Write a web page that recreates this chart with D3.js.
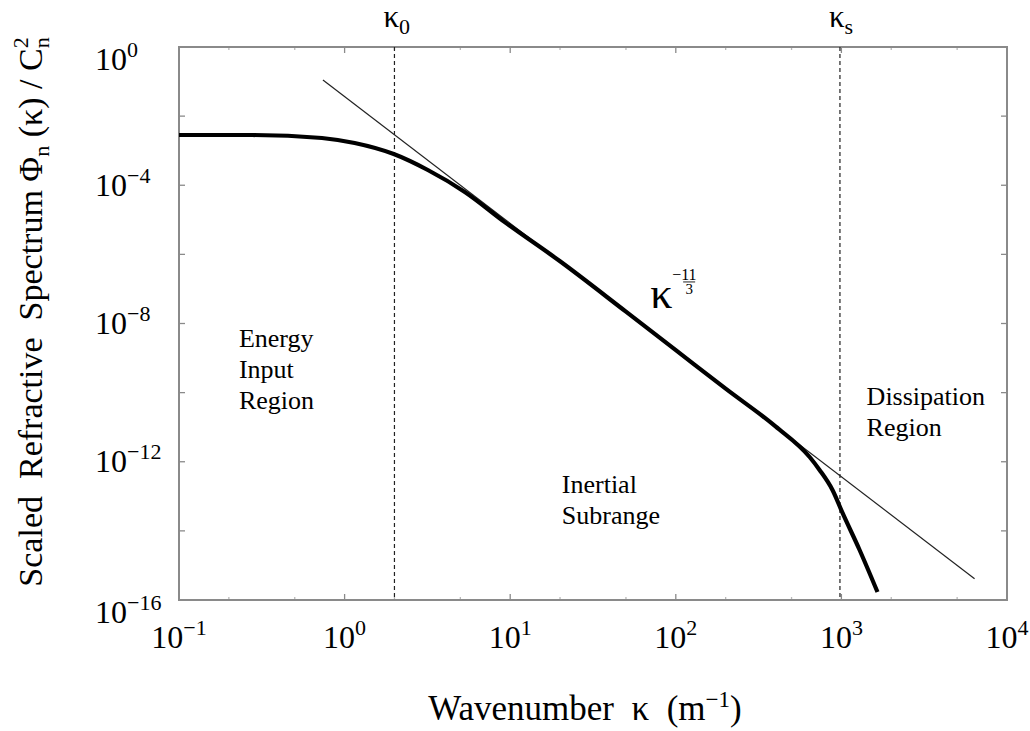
<!DOCTYPE html>
<html>
<head>
<meta charset="utf-8">
<script src="https://cdn.jsdelivr.net/npm/d3@7/dist/d3.min.js"></script>
</head>
<body style="margin:0">
<svg id="chart" width="1030" height="731"></svg>
<script>
// Scaled refractive-index spectrum vs wavenumber (log-log)

// Spectrum curve samples: wavenumber (1/m) and scaled spectrum value
const kappa = [0.1, 0.276, 0.73, 1.15, 1.98, 3.18, 5.32, 9.27, 20, 50, 100, 200, 400, 643, 738, 885, 1016, 1288, 1652];
const spectrum = [2.84e-3, 2.84e-3, 2.33e-3, 1.67e-3, 8.0e-4, 2.76e-4, 6.4e-5, 8.6e-6, 6.3e-7, 2.2e-8, 1.7e-9, 1.3e-10, 1.05e-11, 1.37e-12, 5.8e-13, 1.5e-13, 3.3e-14, 2.8e-15, 1.7e-16];

// Kolmogorov power-law reference line: coef * kappa^(-11/3)
const powerLawKappa = [0.74, 6370];
const powerLawCoef = 0.0367;
const powerLawExp = -11 / 3;

// Characteristic wavenumbers (dashed markers)
const kappa0 = 2.0;
const kappaS = 980;

// Axis ticks
const xTickValues = [0.1, 1, 10, 100, 1000, 10000];
const yTickValues = [1, 1e-4, 1e-8, 1e-12, 1e-16];
const yMinorTicks = [1e-2, 1e-6, 1e-10, 1e-14];
const xMinorTicks = [0.2, 0.5, 2, 5, 20, 50, 200, 500, 2000, 5000];

// Region annotations [kappa, spectrum, lines]
const regions = [
  { k: 0.23, v: 10 ** -8.68, lines: ["Energy", "Input", "Region"] },
  { k: 20.5, v: 10 ** -12.9, lines: ["Inertial", "Subrange"] },
  { k: 1420, v: 10 ** -10.36, lines: ["Dissipation", "Region"] }
];
const slopeLabelPos = { k: 70, v: 10 ** -7.55 };

const SP = "\u00a0"; // non-breaking space for wider word gaps

const svg = d3.select("#chart");
const W = 1030, H = 731;
const margin = { top: 47, right: 23, bottom: 131, left: 179 };

const x = d3.scaleLog().domain([0.1, 1e4]).range([margin.left, W - margin.right]);
const y = d3.scaleLog().domain([1e-16, 1]).range([H - margin.bottom, margin.top]);

const x0 = x.range()[0], x1 = x.range()[1];
const yTop = y.range()[1], yBot = y.range()[0];

const frameColor = "#8a8a8a";

// One plain text element in the serif face
function plain(parent, px, py, size, str) {
  return parent.append("text")
    .attr("x", px).attr("y", py)
    .attr("font-size", size)
    .style("font-family", '"Liberation Serif"')
    .text(str);
}

// A row of text runs (base, superscripts, subscripts) laid out side by side.
// Each part: { text, size, shift (baseline offset), stack (share x with previous run) }
function runs(parent, px, py, anchor, parts) {
  const nodes = parts.map(p => plain(parent, 0, py + (p.shift || 0), p.size, p.text));
  const widths = nodes.map(n => n.node().getComputedTextLength());
  const starts = [];
  let cursor = 0, prevStart = 0, prevEnd = 0;
  parts.forEach((p, i) => {
    if (p.stack) {
      starts.push(prevStart);
      cursor = Math.max(prevEnd, prevStart + widths[i]);
    } else {
      starts.push(cursor);
      prevStart = cursor;
      cursor += widths[i];
    }
    prevEnd = cursor;
  });
  const total = cursor;
  const off = anchor === "middle" ? -total / 2 : anchor === "end" ? -total : 0;
  nodes.forEach((n, i) => n.attr("x", px + off + starts[i]));
}

// Frame
svg.append("rect")
  .attr("x", x0).attr("y", yTop)
  .attr("width", x1 - x0).attr("height", yBot - yTop)
  .attr("fill", "none").attr("stroke", frameColor).attr("stroke-width", 2);

// Inward ticks on all four sides
const tickG = svg.append("g").attr("stroke", frameColor).attr("stroke-width", 1.3);
yMinorTicks.concat(yTickValues).forEach(v => {
  tickG.append("line").attr("x1", x0).attr("x2", x0 + 6).attr("y1", y(v)).attr("y2", y(v));
  tickG.append("line").attr("x1", x1).attr("x2", x1 - 6).attr("y1", y(v)).attr("y2", y(v));
});
xTickValues.forEach(v => {
  tickG.append("line").attr("x1", x(v)).attr("x2", x(v)).attr("y1", yBot).attr("y2", yBot - 6);
  tickG.append("line").attr("x1", x(v)).attr("x2", x(v)).attr("y1", yTop).attr("y2", yTop + 6);
});
xMinorTicks.forEach(v => {
  tickG.append("line").attr("x1", x(v)).attr("x2", x(v)).attr("y1", yBot).attr("y2", yBot - 3).attr("stroke-opacity", 0.6);
  tickG.append("line").attr("x1", x(v)).attr("x2", x(v)).attr("y1", yTop).attr("y2", yTop + 3).attr("stroke-opacity", 0.6);
});

const expText = v => {
  const e = Math.round(Math.log10(v));
  return e < 0 ? "\u2212" + Math.abs(e) : String(e);
};

// X tick labels
xTickValues.forEach(v => {
  runs(svg, x(v), 648, "middle", [
    { text: "10", size: 32 },
    { text: expText(v), size: 22, shift: -13 }
  ]);
});

// Y tick labels (left aligned)
yTickValues.forEach(v => {
  const edge = (v === 1 || v === 1e-16) ? 12 : 0;
  runs(svg, 95, y(v) + 10.5 + edge, "start", [
    { text: "10", size: 32 },
    { text: expText(v), size: 22, shift: -13 }
  ]);
});

// Dashed characteristic wavenumber markers
[kappa0, kappaS].forEach(k => {
  svg.append("line")
    .attr("x1", x(k)).attr("x2", x(k))
    .attr("y1", yTop).attr("y2", yBot)
    .attr("stroke", "#222").attr("stroke-width", 1.2)
    .attr("stroke-dasharray", "4,3");
});

// Marker labels above the frame
[[kappa0, "0"], [kappaS, "s"]].forEach(([k, sub]) => {
  runs(svg, x(k) - 11, 27, "start", [
    { text: "\u03ba", size: 31 },
    { text: sub, size: 22, shift: 7 }
  ]);
});

// Power-law reference line
const lawLine = d3.line()
  .x(d => x(d))
  .y(d => y(powerLawCoef * Math.pow(d, powerLawExp)));
svg.append("path")
  .attr("d", lawLine(powerLawKappa))
  .attr("fill", "none").attr("stroke", "#222").attr("stroke-width", 1.2);

// Spectrum curve
const data = kappa.map((k, i) => [k, spectrum[i]]);
const specLine = d3.line()
  .x(d => x(d[0]))
  .y(d => y(d[1]))
  .curve(d3.curveMonotoneX);
svg.append("path")
  .attr("d", specLine(data))
  .attr("fill", "none").attr("stroke", "#000").attr("stroke-width", 4.2)
  .attr("stroke-linejoin", "round");

// Slope annotation kappa^(-11/3)
{
  const px = x(slopeLabelPos.k), py = y(slopeLabelPos.v);
  plain(svg, px, py, 44, "\u03ba");
  plain(svg, px + 22, py - 28, 16, "\u221211");
  svg.append("line")
    .attr("x1", px + 33).attr("x2", px + 45)
    .attr("y1", py - 26).attr("y2", py - 26)
    .attr("stroke", "#222").attr("stroke-width", 1);
  plain(svg, px + 39, py - 14, 15, "3").attr("text-anchor", "middle");
}

// Region labels, one element per line
regions.forEach(r => {
  r.lines.forEach((s, i) => plain(svg, x(r.k), y(r.v) + i * 31, 26, s));
});

// Axis titles
runs(svg, 585, 720, "middle", [
  { text: "Wavenumber" + SP + SP + "\u03ba" + SP + SP + "(m", size: 35 },
  { text: "\u22121", size: 23, shift: -13 },
  { text: ")", size: 35 }
]);

{
  const g = svg.append("g").attr("transform", "translate(42,312) rotate(-90)");
  runs(g, 0, 0, "middle", [
    { text: "Scaled" + SP + SP + "Refractive" + SP + SP + "Spectrum" + SP + "\u03a6", size: 34 },
    { text: "n", size: 22, shift: 7 },
    { text: SP + "(\u03ba)" + SP + "/" + SP + "C", size: 34 },
    { text: "2", size: 22, shift: -14 },
    { text: "n", size: 22, shift: 7, stack: true }
  ]);
}
</script>
</body>
</html>
